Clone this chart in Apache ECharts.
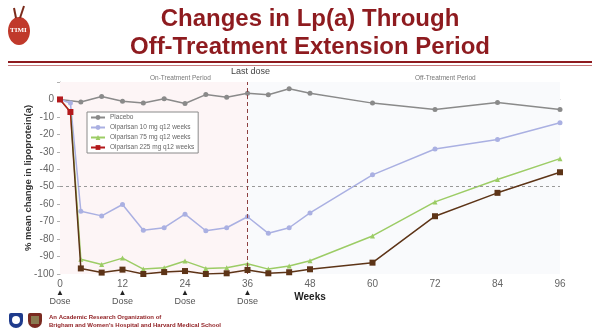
<!DOCTYPE html>
<html>
<head>
<meta charset="UTF-8"/>
<script src="https://cdn.jsdelivr.net/npm/echarts@6/dist/echarts.min.js"></script>
<title>Changes in Lp(a)</title>
<style>
  html, body { margin: 0; padding: 0; background: #fff; }
  #main { width: 600px; height: 335px; }
</style>
</head>
<body>
<div id="main"></div>
<script>
    // weeks where Lp(a) was measured
    var weeks = [0, 2, 4, 8, 12, 16, 20, 24, 28, 32, 36, 40, 44, 48, 60, 72, 84, 96];
    var placebo = [0, null, -1.5, 1.7, -1, -2, 0.4, -2.3, 2.8, 1.3, 3.6, 2.7, 6.1, 3.6, -2.1, -5.7, -1.7, -5.7];
    var olp10 = [0, -2, -64, -66.7, -60.2, -74.9, -73.5, -65.7, -75.2, -73.5, -67.2, -76.7, -73.5, -65, -43.2, -28.4, -22.9, -13.3];
    var olp75 = [0, -7, -91.6, -94.5, -90.9, -97.2, -96.4, -92.6, -96.8, -96.4, -94.1, -97.2, -95.4, -92.4, -78.2, -58.7, -45.9, -33.9];
    var olp225 = [0, -7.2, -96.8, -99.2, -97.5, -100, -98.9, -98.3, -100, -99.6, -97.7, -99.6, -99, -97.3, -93.5, -66.9, -53.5, -41.7];
    var seriesNames = ['Placebo', 'Olparisan 10 mg q12 weeks', 'Olparisan 75 mg q12 weeks', 'Olparisan 225 mg q12 weeks'];
    var doseWeeks = [0, 12, 24, 36];

    function pairs(vals) {
        var out = [];
        for (var i = 0; i < weeks.length; i++) {
            out.push([weeks[i], vals[i]]);
        }
        return out;
    }

    var myChart = echarts.init(document.getElementById('main'));
    var titleColor = '#8e1b1f';

    var option = {
        backgroundColor: '#ffffff',
        animation: false,
        title: {
            text: 'Changes in Lp(a) Through\nOff-Treatment Extension Period',
            left: 305,
            top: 0,
            textAlign: 'center',
            textStyle: {
                color: titleColor,
                fontFamily: 'Liberation Sans',
                fontWeight: 'bold',
                fontSize: 24,
                lineHeight: 28
            }
        },
        grid: { left: 60, right: 40, top: 82, bottom: 61 },
        legend: {
            orient: 'vertical',
            left: 87,
            top: 112,
            itemWidth: 14,
            itemHeight: 6,
            itemGap: 3,
            padding: [2, 4, 2, 3],
            borderColor: '#8a8a8a',
            borderWidth: 1,
            backgroundColor: '#ffffff',
            textStyle: { fontSize: 6.5, color: '#666', fontFamily: 'Liberation Sans' },
            data: seriesNames
        },
        xAxis: {
            type: 'value',
            min: 0,
            max: 96,
            interval: 12,
            name: 'Weeks',
            nameLocation: 'middle',
            nameGap: 18,
            nameMoveOverlap: false,
            nameTextStyle: { fontWeight: 'bold', fontSize: 10, color: '#222', fontFamily: 'Liberation Sans' },
            axisLine: { lineStyle: { color: '#b0b0b0' } },
            axisTick: { show: false },
            splitLine: { show: false },
            axisLabel: {
                color: '#666',
                fontSize: 10,
                margin: 5,
                fontFamily: 'Liberation Sans',
                formatter: function (v) {
                    if (doseWeeks.indexOf(v) >= 0) {
                        return v + '\n{a|▲}\n{d|Dose}';
                    }
                    return v + '\n{a| }\n{d| }';
                },
                rich: {
                    a: { fontSize: 8, color: '#222', lineHeight: 8 },
                    d: { fontSize: 9, color: '#555', lineHeight: 9 }
                }
            }
        },
        yAxis: {
            type: 'value',
            min: -100,
            max: 10,
            interval: 10,
            name: '% mean change in lipoprotein(a)',
            nameLocation: 'middle',
            nameGap: 27,
            nameMoveOverlap: false,
            nameTextStyle: { fontWeight: 'bold', fontSize: 9.5, color: '#333', fontFamily: 'Liberation Sans' },
            axisLine: { show: true, lineStyle: { color: '#b0b0b0' } },
            axisTick: { show: true, length: 3, lineStyle: { color: '#b0b0b0' } },
            splitLine: { show: false },
            axisLabel: {
                color: '#666',
                fontSize: 10,
                margin: 6,
                fontFamily: 'Liberation Sans',
                formatter: function (v) { return v > 0 ? '' : v; }
            }
        },
        visualMap: {
            show: false,
            type: 'piecewise',
            seriesIndex: 3,
            dimension: 0,
            pieces: [
                { gte: 0, lte: 2.2, color: '#b3191c' },
                { gt: 2.2, lte: 96, color: '#5d3417' }
            ]
        },
        series: [
            {
                name: seriesNames[0],
                type: 'line',
                data: pairs(placebo),
                connectNulls: true,
                symbol: 'circle',
                symbolSize: 5,
                color: '#8a8a8a',
                lineStyle: { width: 1.5 },
                markArea: {
                    silent: true,
                    data: [
                        [{ xAxis: 0, itemStyle: { color: '#fdf5f6' } }, { xAxis: 36 }],
                        [{ xAxis: 36, itemStyle: { color: '#f9fafc' } }, { xAxis: 96 }]
                    ]
                },
                markLine: {
                    silent: true,
                    symbol: 'none',
                    label: { show: false },
                    data: [
                        { yAxis: -50, lineStyle: { color: '#999', type: [3, 3], width: 1 } },
                        { xAxis: 36, lineStyle: { color: '#8e4040', type: [4, 3], width: 1 } }
                    ]
                },
                z: 2
            },
            {
                name: seriesNames[1],
                type: 'line',
                data: pairs(olp10),
                symbol: 'circle',
                symbolSize: 5,
                color: '#aab0e2',
                lineStyle: { width: 1.5 },
                z: 3
            },
            {
                name: seriesNames[2],
                type: 'line',
                data: pairs(olp75),
                symbol: 'triangle',
                symbolSize: 5,
                color: '#9ccc65',
                lineStyle: { width: 1.5 },
                z: 4
            },
            {
                name: seriesNames[3],
                type: 'line',
                data: pairs(olp225),
                symbol: 'rect',
                symbolSize: 6,
                color: '#b3191c',
                lineStyle: { width: 1.5 },
                z: 5
            }
        ],
        graphic: [
            // double rule under the title
            { type: 'rect', shape: { x: 8, y: 61, width: 584, height: 2 }, style: { fill: titleColor } },
            { type: 'rect', shape: { x: 8, y: 65, width: 584, height: 1 }, style: { fill: '#c77b7d' } },
            // TIMI logo
            { type: 'ellipse', shape: { cx: 19, cy: 31, rx: 11, ry: 14 }, style: { fill: '#c0392b' } },
            { type: 'line', shape: { x1: 16, y1: 18, x2: 14, y2: 8 }, style: { stroke: '#7a2a1a', lineWidth: 2 } },
            { type: 'line', shape: { x1: 20, y1: 18, x2: 24, y2: 6 }, style: { stroke: '#7a2a1a', lineWidth: 2 } },
            { type: 'text', left: 10, top: 27, style: { text: 'TIMI', fill: '#ffffff', font: 'bold 7px Liberation Serif' } },
            // period labels
            { type: 'text', left: 231, top: 67, style: { text: 'Last dose', fill: '#444', font: '9px Liberation Sans' } },
            { type: 'text', left: 150, top: 75, style: { text: 'On-Treatment Period', fill: '#777', font: '6.5px Liberation Sans' } },
            { type: 'text', left: 415, top: 75, style: { text: 'Off-Treatment Period', fill: '#777', font: '6.5px Liberation Sans' } },
            // footer logos
            { type: 'rect', shape: { x: 9, y: 313, width: 14, height: 15, r: [2, 2, 7, 7] }, style: { fill: '#1f3b8c' } },
            { type: 'circle', shape: { cx: 16, cy: 320, r: 4 }, style: { fill: '#ffffff' } },
            { type: 'rect', shape: { x: 28, y: 313, width: 14, height: 15, r: [2, 2, 7, 7] }, style: { fill: '#7a2a20' } },
            { type: 'rect', shape: { x: 31, y: 316, width: 8, height: 8 }, style: { fill: '#8a7a50' } },
            { type: 'text', left: 49, top: 314, style: { text: 'An Academic Research Organization of', fill: '#8e1b1f', font: 'bold 6px Liberation Sans' } },
            { type: 'text', left: 49, top: 322, style: { text: "Brigham and Women's Hospital and Harvard Medical School", fill: '#8e1b1f', font: 'bold 6px Liberation Sans' } }
        ]
    };

    myChart.setOption(option);
</script>
</body>
</html>
